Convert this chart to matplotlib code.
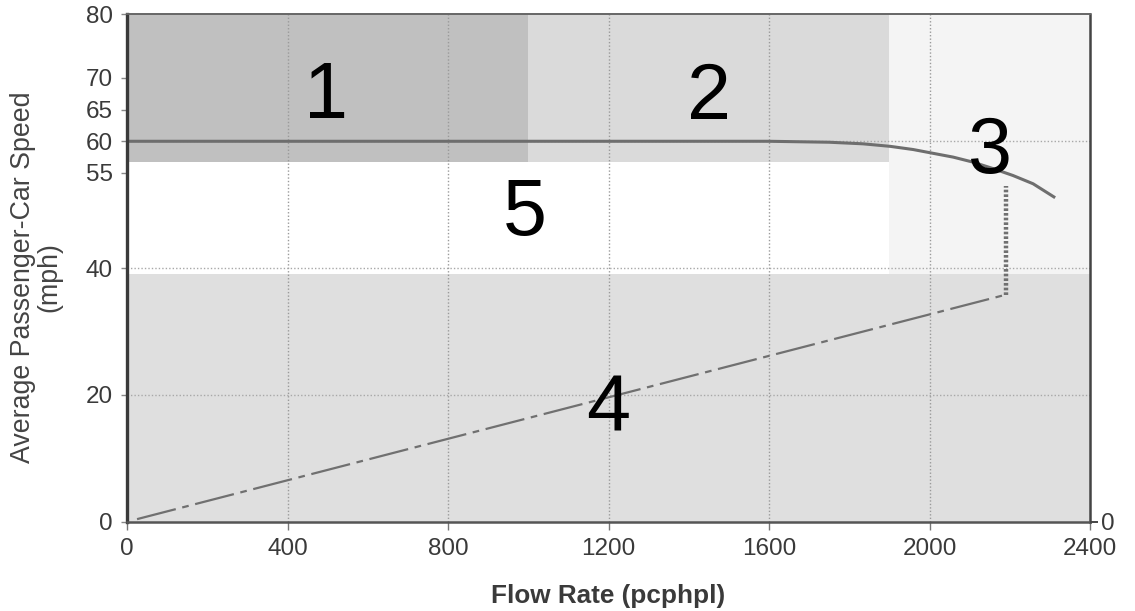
import matplotlib
matplotlib.use("Agg")
import matplotlib.pyplot as plt

plt.rcParams['font.family'] = ['Liberation Sans', 'DejaVu Sans']

# ---- data ----
region_labels = ["1", "2", "3", "4", "5"]
region_flow_start = [0, 1000, 1900, 0, 0]
region_flow_end = [1000, 1900, 2400, 2400, 1900]
region_speed_low = [56.7, 56.7, 39.1, 0, 39.1]
region_speed_high = [80, 80, 80, 39.1, 56.7]
region_label_flow = [495, 1450, 2151, 1199, 992]
region_label_speed = [63.6, 63.5, 55.0, 14.4, 45.2]

curve_flow = [0, 1600, 1750, 1834, 1902, 1959, 2009, 2059, 2109, 2158,
              2208, 2258, 2313]
curve_speed = [60, 60, 59.85, 59.6, 59.2, 58.7, 58.1, 57.5, 56.7, 55.7,
               54.6, 53.3, 51.1]

congested_flow = [25, 2190]
congested_speed = [0.4, 35.8]

breakdown_flow = [2190, 2190]
breakdown_speed = [35.8, 52.9]

x_ticks = [0, 400, 800, 1200, 1600, 2000, 2400]
y_ticks = [0, 20, 40, 55, 60, 65, 70, 80]
x_grid = [400, 800, 1200, 1600, 2000]
y_grid = [20, 40, 60]

region_colors = ["#c0c0c0", "#dadada", "#f4f4f4", "#dfdfdf", "#ffffff"]

# ---- figure ----
fig = plt.figure(figsize=(11.35, 6.11), dpi=100)
ax = fig.add_axes([0.1119, 0.1462, 0.9604 - 0.1119, 0.9763 - 0.1462])
ax.set_xlim(0, 2400)
ax.set_ylim(0, 80)

for x0, x1, y0, y1, c in zip(region_flow_start, region_flow_end,
                             region_speed_low, region_speed_high, region_colors):
    ax.fill_between([x0, x1], y0, y1, color=c, lw=0, zorder=0)

for gx in x_grid:
    ax.axvline(gx, color="#9a9a9a", lw=1.0, ls=(0, (1, 1.5)), zorder=1)
for gy in y_grid:
    ax.axhline(gy, color="#a8a8a8", lw=1.0, ls=(0, (1, 1.5)), zorder=1)

ax.plot(curve_flow, curve_speed, color="#6e6e6e", lw=2.2, zorder=3,
        solid_capstyle="butt", solid_joinstyle="round")
ax.plot(congested_flow, congested_speed, color="#707070", lw=1.6,
        ls=(0, (18, 3, 3, 3)), zorder=3)
ax.plot(breakdown_flow, breakdown_speed, color="#707070", lw=3.2,
        ls=(0, (0.6, 0.45)), zorder=3)

for lab, lx, ly in zip(region_labels, region_label_flow, region_label_speed):
    ax.text(lx, ly, lab, fontsize=57, color="black", ha="center",
            va="baseline", zorder=4)

for side in ["left", "bottom", "right", "top"]:
    ax.spines[side].set_zorder(5)
ax.spines["left"].set_linewidth(2.4)
ax.spines["left"].set_color("#3a3a3a")
ax.spines["bottom"].set_linewidth(1.8)
ax.spines["bottom"].set_color("#555555")
ax.spines["right"].set_linewidth(1.8)
ax.spines["right"].set_color("#444444")
ax.spines["top"].set_linewidth(1.4)
ax.spines["top"].set_color("#666666")
ax.spines["top"].set_linestyle((0, (2, 1)))

ax.set_xticks(x_ticks)
ax.set_xticklabels([str(v) for v in x_ticks])
ax.set_yticks(y_ticks)
ax.set_yticklabels([str(v) for v in y_ticks])
ax.tick_params(axis="x", length=6, width=1.0, color="#777777", pad=6,
               labelsize=17.5, labelcolor="#3a3a3a")
ax.tick_params(axis="y", length=4, width=1.0, color="#888888", pad=6,
               labelsize=17.5, labelcolor="#3a3a3a")

ax2 = ax.twinx()
ax2.set_ylim(0, 80)
ax2.set_yticks([0])
ax2.set_yticklabels(["0"])
ax2.tick_params(axis="y", length=6, width=1.4, color="#444444", pad=2,
                labelsize=17.5, labelcolor="#3a3a3a")
for side in ["left", "bottom", "right", "top"]:
    ax2.spines[side].set_visible(False)

ax.set_xlabel("Flow Rate (pcphpl)", fontsize=18.8, fontweight="bold",
              color="#3a3a3a", labelpad=17)
ax.set_ylabel("Average Passenger-Car Speed\n(mph)", fontsize=19.3,
              color="#444444", linespacing=1.0)
ax.yaxis.set_label_coords(-0.0675, 0.4825)

fig.savefig("out.png", dpi=100)
